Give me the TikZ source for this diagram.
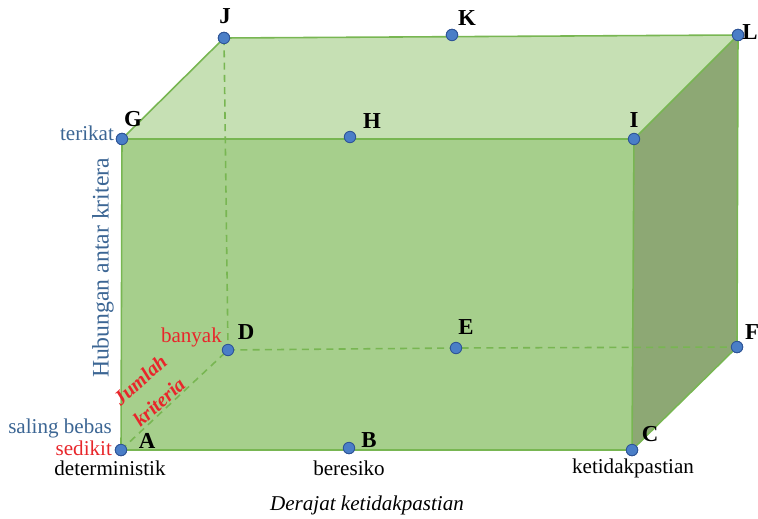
\documentclass[tikz,border=0pt]{standalone}
\usepackage{fontspec}
\setmainfont{Liberation Serif}
\usepackage{xcolor}
\usetikzlibrary{positioning, calc}

\definecolor{edgegreen}{HTML}{78B652}
\definecolor{topface}{HTML}{C6E0B4}
\definecolor{frontface}{HTML}{A6CF8C}
\definecolor{sideface}{HTML}{8DA874}
\definecolor{dotblue}{HTML}{4A7EC7}
\definecolor{dotrim}{HTML}{2F5597}
\definecolor{axisblue}{HTML}{3C6694}
\definecolor{axisred}{HTML}{E8262B}

\begin{document}
\begin{tikzpicture}[x=0.02cm, y=-0.02cm,
        pt/.style={circle, fill=dotblue, draw=dotrim, line width=0.5pt, minimum size=6.5pt, inner sep=0pt},
        vlabel/.style={font=\bfseries\fontsize{13}{13}\selectfont, inner sep=1pt},
        edge/.style={draw=edgegreen, line width=0.9pt},
        hidden/.style={draw=edgegreen, line width=0.9pt, dashed, dash pattern=on 4pt off 3pt},
        bluetxt/.style={text=axisblue, font=\fontsize{12}{12}\selectfont, inner sep=1pt},
        redtxt/.style={text=axisred, font=\fontsize{12}{12}\selectfont, inner sep=1pt},
        blacktxt/.style={font=\fontsize{12}{12}\selectfont, inner sep=1pt},
        slanttxt/.style={text=axisred, rotate=42, font=\bfseries\itshape\fontsize{11.5}{11.5}\selectfont, inner sep=0pt}
    ]
    \useasboundingbox (0,0) rectangle (758,518);

    % --- Corner points ---
    \node[pt] (A) at (121,450) {};
    \node[pt] (B) at (349,448) {};
    \node[pt] (C) at (632,450) {};
    \node[pt] (D) at (228,350) {};
    \node[pt] (E) at (456,348) {};
    \node[pt] (F) at (737,347) {};
    \node[pt] (G) at (122,139) {};
    \node[pt] (H) at (350,137) {};
    \node[pt] (I) at (634,139) {};
    \node[pt] (J) at (224,38) {};
    \node[pt] (K) at (452,35) {};
    \node[pt] (L) at (738,35) {};

    % --- Faces ---
    \fill[topface] (G.center) -- (J.center) -- (L.center) -- (I.center) -- cycle;
    \fill[frontface] (A.center) -- (C.center) -- (I.center) -- (G.center) -- cycle;
    \fill[sideface] (C.center) -- (F.center) -- (L.center) -- (I.center) -- cycle;

    % --- Hidden edges ---
    \draw[hidden] (J.center) -- (D.center);
    \draw[hidden] (A.center) -- (D.center);
    \draw[hidden] (D.center) -- (E.center) -- (F.center);

    % --- Visible edges ---
    \draw[edge] (A.center) -- (C.center) -- (I.center) -- (G.center) -- cycle;
    \draw[edge] (G.center) -- (J.center) -- (L.center) -- (I.center);
    \draw[edge] (L.center) -- (F.center) -- (C.center);

    % --- Points on top ---
    \foreach \p in {A,B,C,D,E,F,G,H,I,J,K,L}
        \node[pt] at (\p) {};

    % --- Letters ---
    \node[vlabel] (lA) at (147,441) {A};
    \node[vlabel] (lB) at (369,440) {B};
    \node[vlabel] (lC) at (650,434) {C};
    \node[vlabel] (lD) at (246,332) {D};
    \node[vlabel] (lE) at (466,327) {E};
    \node[vlabel] (lF) at (752,332) {F};
    \node[vlabel] (lG) at (133,119) {G};
    \node[vlabel] (lH) at (372,121) {H};
    \node[vlabel] (lI) at (634,120) {I};
    \node[vlabel] (lJ) at (225,16) {J};
    \node[vlabel] (lK) at (467,18) {K};
    \node[vlabel] (lL) at (750,32) {L};

    % --- Axis texts ---
    \node[bluetxt, anchor=east] (terikat) at (116,133) {terikat};
    \node[bluetxt, rotate=90, font=\fontsize{13.5}{13.5}\selectfont] (hubungan) at (103,268) {Hubungan antar kritera};
    \node[bluetxt, anchor=east] (bebas) at (114,428) {saling bebas};
    \node[redtxt, anchor=east] (sedikit) at (114,448) {sedikit};
    \node[redtxt, anchor=east] (banyak) at (224,337) {banyak};
    \node[slanttxt] (jumlah) at (140,380) {Jumlah};
    \node[slanttxt] (kriteria) at (159,402) {kriteria};
    \node[blacktxt] (determ) at (110,468) {deterministik};
    \node[blacktxt] (beresiko) at (349,468) {beresiko};
    \node[blacktxt] (ketidak) at (633,468) {ketidakpastian};
    \node[blacktxt, font=\itshape\fontsize{12}{12}\selectfont] (derajat) at (367,505) {Derajat ketidakpastian};

\end{tikzpicture}
\end{document}
